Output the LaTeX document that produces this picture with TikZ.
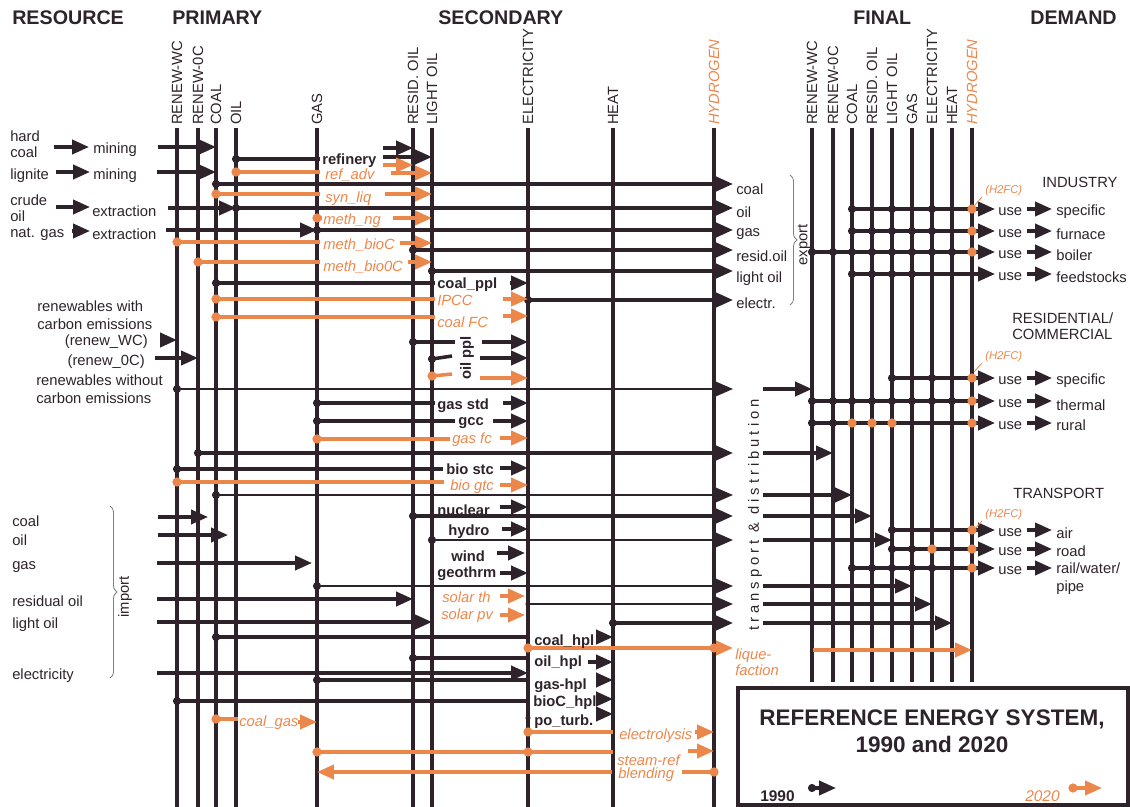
\documentclass[tikz,border=0pt]{standalone}
\usepackage{fontspec}
\setmainfont{Liberation Sans}
\usetikzlibrary{arrows.meta,positioning,decorations.pathreplacing}
\definecolor{dk}{RGB}{46,35,42}
\definecolor{orng}{RGB}{236,135,75}
\newcommand{\tap}[2]{\fill[dk] (#1 |- 0,#2) circle (2.9pt);}
\newcommand{\ntap}[2]{\fill[orng] (#1 |- 0,#2) circle (3.3pt);}

\begin{document}
\begin{tikzpicture}[x=0.025cm, y=-0.025cm,
    txt/.style={inner sep=0pt, anchor=west, text=dk, align=left, font=\fontsize{10.5}{11.5}\selectfont},
    proc/.style={txt, font=\fontsize{10.5}{11.5}\selectfont\bfseries},
    nproc/.style={txt, text=orng, font=\fontsize{10.5}{11.5}\selectfont\itshape},
    head/.style={inner sep=0pt, anchor=west, text=dk, font=\fontsize{14}{16}\selectfont\bfseries},
    collbl/.style={inner sep=0pt, rotate=90, anchor=west, text=dk, font=\fontsize{10.5}{11.5}\selectfont},
    bus/.style={draw=dk, line width=2.9pt},
    flow/.style={draw=dk, line width=2.5pt},
    thinflow/.style={draw=dk, line width=1.5pt},
    nflow/.style={draw=orng, line width=2.5pt},
    line/.style={-{Triangle[length=12pt, width=10pt]}},
    brc/.style={draw=gray, line width=0.6pt, decorate, decoration={brace, amplitude=5pt}},
    h2/.style={inner sep=0pt, anchor=west, text=orng, font=\fontsize{8}{9}\selectfont\itshape}
  ]
  \useasboundingbox (0,0) rectangle (1130,807);

  % headings
  \node [head] (hres) at (12,18) {RESOURCE};
  \node [head] (hpri) at (172,18) {PRIMARY};
  \node [head] (hsec) at (438,18) {SECONDARY};
  \node [head] (hfin) at (853,18) {FINAL};
  \node [head] (hdem) at (1030,18) {DEMAND};

  % primary and secondary buses
  \foreach \n/\x/\lab in {pRWC/177/RENEW-WC, pROC/198/RENEW-0C, pCOAL/216/COAL, pOIL/236/OIL, pGAS/317/GAS,
      sRES/413/RESID. OIL, sLIG/432/LIGHT OIL, sELE/528/ELECTRICITY, sHEA/613/HEAT} {
    \coordinate (\n) at (\x,128);
    \draw [bus] (\n) -- (\x,807);
    \node [collbl] (l\n) at (\x,125) {\lab};
  }
  \coordinate (sHYD) at (714,128);
  \draw [bus] (sHYD) -- (714,807);
  \node [collbl, text=orng, font=\fontsize{10.5}{11.5}\selectfont\itshape] (lsHYD) at (714,125) {HYDROGEN};

  % final buses
  \foreach \n/\x/\lab in {fRWC/812/RENEW-WC, fROC/833/RENEW-0C, fCOAL/852/COAL, fRES/872/RESID. OIL,
      fLIG/892/LIGHT OIL, fGAS/912/GAS, fELE/932/ELECTRICITY, fHEA/952/HEAT} {
    \coordinate (\n) at (\x,128);
    \draw [bus] (\n) -- (\x,682);
    \node [collbl] (l\n) at (\x,125) {\lab};
  }
  \coordinate (fHYD) at (972,128);
  \draw [bus] (fHYD) -- (972,682);
  \node [collbl, text=orng, font=\fontsize{10.5}{11.5}\selectfont\itshape] (lfHYD) at (972,125) {HYDROGEN};

  \coordinate (ex) at (733,0);
  \coordinate (td) at (763,0);
  \coordinate (ue) at (995,0);

  % resources
  \node [txt] (hcoal) at (10,144) {hard\\coal};
  \node [txt] (mine1) at (93,150) {mining};
  \node [txt] (lign) at (10,176) {lignite};
  \node [txt] (mine2) at (93,176) {mining};
  \node [txt] (crude) at (10,208) {crude\\oil};
  \node [txt] (extr1) at (92,211) {extraction};
  \node [txt] (ngas) at (10,234) {nat. gas};
  \node [txt] (extr2) at (92,234) {extraction};
  \path [flow, line] (54,147) -- (89,147);
  \path [flow, line] (56,172) -- (90,172);
  \path [flow, line] (56,207) -- (90,207);
  \path [flow, line] (72,231) -- (90,231);
  \path [flow, line] (158,147) -- (pCOAL |- 0,147);
  \path [flow, line] (157,172) -- (pCOAL |- 0,172);
  \path [flow, line] (168,208) -- (pOIL |- 0,208);
  \path [flow, line] (166,230) -- (pGAS |- 0,230);

  \node [txt, font=\fontsize{10.5}{13}\selectfont] (rwc) at (37,315) {renewables with\\carbon emissions};
  \node [txt, anchor=east] (rwcl) at (148,342) {(renew\_WC)};
  \node [txt, anchor=east] (rocl) at (145,362) {(renew\_0C)};
  \node [txt, font=\fontsize{10.5}{13}\selectfont] (roc) at (36,389) {renewables without\\carbon emissions};
  \path [flow, line] (160,340) -- (pRWC |- 0,340);
  \path [flow, line] (155,358) -- (pROC |- 0,358);

  % imports
  \node [txt] (icoal) at (12,521) {coal};
  \node [txt] (ioil) at (12,540) {oil};
  \node [txt] (igas) at (12,567) {gas};
  \node [txt] (ires) at (12,601) {residual oil};
  \node [txt] (ilig) at (12,625) {light oil};
  \node [txt] (iele) at (12,676) {electricity};
  \draw [brc] (110,506) -- (110,678);
  \node [txt, anchor=center, rotate=90] (import) at (125,597) {import};
  \path [flow, line] (158,517) -- (208,517);
  \path [flow, line] (158,535) -- (228,535);
  \path [flow, line] (157,563) -- (312,563);
  \path [flow, line] (157,599) -- (sRES |- 0,599);
  \path [flow, line] (157,622) -- (sLIG |- 0,622);
  \path [flow, line] (157,673) -- (sELE |- 0,673);

  % refineries and conversion to oil products
  \tap{pOIL}{159} \path [flow] (pOIL |- 0,159) -- (320,159);
  \node [proc] (refin) at (322,161) {refinery};
  \path [flow, line] (383,148) -- (sRES |- 0,148);
  \path [flow, line] (383,157) -- (sLIG |- 0,157);
  \ntap{pOIL}{172} \path [nflow] (pOIL |- 0,172) -- (320,172);
  \node [nproc] (refadv) at (325,175) {ref\_adv};
  \path [nflow, line] (383,165) -- (sRES |- 0,165);
  \path [nflow, line] (391,173) -- (sLIG |- 0,173);
  \ntap{pCOAL}{194} \path [nflow] (pCOAL |- 0,194) -- (320,194);
  \node [nproc] (synliq) at (325,199) {syn\_liq};
  \path [nflow, line] (385,194) -- (sLIG |- 0,194);
  \ntap{pGAS}{218} \path [nflow] (pGAS |- 0,218) -- (322,218);
  \node [nproc] (methng) at (323,221) {meth\_ng};
  \path [nflow, line] (393,218) -- (sLIG |- 0,218);
  \ntap{pRWC}{242} \path [nflow] (pRWC |- 0,242) -- (320,242);
  \node [nproc] (mbioc) at (323,245) {meth\_bioC};
  \path [nflow, line] (400,243) -- (sLIG |- 0,243);
  \ntap{pROC}{262} \path [nflow] (pROC |- 0,262) -- (320,262);
  \node [nproc] (mbioo) at (323,267) {meth\_bio0C};
  \path [nflow, line] (408,262) -- (sLIG |- 0,262);

  % exports
  \tap{pCOAL}{184} \path [flow, line] (pCOAL |- 0,184) -- (ex |- 0,184);
  \tap{pOIL}{208}  \path [flow, line] (pOIL |- 0,208) -- (ex |- 0,208);
  \tap{pGAS}{230}  \path [flow, line] (pGAS |- 0,230) -- (ex |- 0,230);
  \tap{sRES}{250}  \path [flow, line] (sRES |- 0,250) -- (ex |- 0,250);
  \tap{sLIG}{271}  \path [flow, line] (sLIG |- 0,271) -- (ex |- 0,271);
  \tap{sELE}{300}  \path [flow, line] (sELE |- 0,300) -- (ex |- 0,300);
  \node [txt] (xcoal) at (736,189) {coal};
  \node [txt] (xoil) at (736,212) {oil};
  \node [txt] (xgas) at (736,234) {gas};
  \node [txt] (xres) at (736,256) {resid.oil};
  \node [txt] (xlig) at (736,279) {light oil};
  \node [txt] (xele) at (736,303) {electr.};
  \draw [brc] (790,175) -- (790,305);
  \node [txt, anchor=center, rotate=90] (export) at (804,245) {export};

  % power plants
  \tap{pCOAL}{283} \path [flow] (pCOAL |- 0,283) -- (435,283);
  \node [proc] (cppl) at (437,285) {coal\_ppl};
  \path [flow, line] (510,283) -- (sELE |- 0,283);
  \ntap{pCOAL}{299} \path [nflow] (pCOAL |- 0,299) -- (435,299);
  \node [nproc] (ipcc) at (437,300) {IPCC};
  \path [nflow, line] (503,299) -- (sELE |- 0,299);
  \ntap{pCOAL}{317} \path [nflow] (pCOAL |- 0,317) -- (435,317);
  \node [nproc] (cfc) at (437,322) {coal FC};
  \path [nflow, line] (503,316) -- (sELE |- 0,316);
  \tap{sRES}{342} \path [flow] (sRES |- 0,342) -- (455,342);
  \tap{sLIG}{359} \path [flow] (sLIG |- 0,359) -- (452,356);
  \ntap{sLIG}{376} \path [nflow] (sLIG |- 0,376) -- (452,374);
  \node [proc, anchor=center, rotate=90] (oppl) at (467,358) {oil ppl};
  \path [flow, line] (482,342) -- (sELE |- 0,342);
  \path [flow, line] (480,358) -- (sELE |- 0,358);
  \path [nflow, line] (480,378) -- (sELE |- 0,378);
  \tap{pGAS}{403} \path [flow] (pGAS |- 0,403) -- (435,403);
  \node [proc] (gstd) at (437,406) {gas std};
  \path [flow, line] (503,403) -- (sELE |- 0,403);
  \tap{pGAS}{421} \path [flow] (pGAS |- 0,421) -- (455,421);
  \node [proc] (gcc) at (458,423) {gcc};
  \path [flow, line] (493,421) -- (sELE |- 0,421);
  \ntap{pGAS}{439} \path [nflow] (pGAS |- 0,439) -- (450,439);
  \node [nproc] (gfc) at (452,440) {gas fc};
  \path [nflow, line] (500,438) -- (sELE |- 0,438);
  \tap{pRWC}{469} \path [flow] (pRWC |- 0,469) -- (443,469);
  \node [proc] (bstc) at (446,469) {bio stc};
  \path [flow, line] (500,468) -- (sELE |- 0,468);
  \ntap{pRWC}{482} \path [nflow] (pRWC |- 0,482) -- (444,482);
  \node [nproc] (bgtc) at (450,487) {bio gtc};
  \path [nflow, line] (500,485) -- (sELE |- 0,485);
  \node [proc] (nucl) at (437,510) {nuclear};
  \path [flow, line] (500,507) -- (sELE |- 0,507);
  \node [proc] (hydro) at (448,532) {hydro};
  \path [flow, line] (502,529) -- (sELE |- 0,529);
  \node [proc] (wind) at (451,556) {wind};
  \path [flow, line] (497,553) -- (525,553);
  \node [proc] (geoth) at (437,574) {geothrm};
  \path [flow, line] (500,573) -- (sELE |- 0,573);
  \node [nproc] (solth) at (442,597) {solar th};
  \path [nflow, line] (500,596) -- (525,596);
  \node [nproc] (solpv) at (441,616) {solar pv};
  \path [nflow, line] (500,615) -- (525,615);

  % transport and distribution
  \tap{pRWC}{389} \path [thinflow, line] (pRWC |- 0,389) -- (ex |- 0,389);
  \tap{pROC}{453} \path [flow, line] (pROC |- 0,453) -- (ex |- 0,453);
  \tap{pCOAL}{495} \path [thinflow, line] (pCOAL |- 0,495) -- (ex |- 0,495);
  \tap{sRES}{516} \path [flow, line] (sRES |- 0,516) -- (ex |- 0,516);
  \tap{sLIG}{540} \path [thinflow, line] (sLIG |- 0,540) -- (ex |- 0,540);
  \tap{pGAS}{586} \path [thinflow, line] (pGAS |- 0,586) -- (ex |- 0,586);
  \fill [dk] (sELE |- 0,604) circle (1.8pt); \path [thinflow, line] (sELE |- 0,604) -- (ex |- 0,604);
  \tap{sHEA}{623} \path [flow, line] (sHEA |- 0,623) -- (ex |- 0,623);
  \node [txt, anchor=center, rotate=90, font=\fontsize{10.5}{11.5}\selectfont\addfontfeature{LetterSpace=27}] (tdist) at (755,515) {transport \& distribution};
  \path [flow, line] (td |- 0,389) -- (fRWC |- 0,389);
  \path [flow, line] (td |- 0,453) -- (fROC |- 0,453);
  \path [flow, line] (td |- 0,495) -- (fCOAL |- 0,495);
  \path [flow, line] (td |- 0,516) -- (fRES |- 0,516);
  \path [flow, line] (td |- 0,540) -- (fLIG |- 0,540);
  \path [flow, line] (td |- 0,586) -- (fGAS |- 0,586);
  \path [flow, line] (td |- 0,604) -- (fELE |- 0,604);
  \path [flow, line] (td |- 0,623) -- (fHEA |- 0,623);
  \ntap{sELE}{648} \path [nflow, line] (sELE |- 0,648) -- (ex |- 0,648); \ntap{sHYD}{648}
  \node [nproc] (liquef) at (735,662) {lique-\\faction};
  \path [nflow, line] (813,650) -- (fHYD |- 0,650);

  % heat plants and hydrogen
  \tap{pCOAL}{637} \path [flow] (pCOAL |- 0,637) -- (sELE |- 0,637);
  \node [proc] (chpl) at (534,642) {coal\_hpl};
  \path [flow, line] (598,637) -- (sHEA |- 0,637);
  \tap{sRES}{658} \path [flow] (sRES |- 0,658) -- (sELE |- 0,658);
  \node [proc] (ohpl) at (534,663) {oil\_hpl};
  \path [flow, line] (588,662) -- (sHEA |- 0,662);
  \tap{pGAS}{680} \path [flow] (pGAS |- 0,680) -- (sELE |- 0,680);
  \node [proc] (ghpl) at (534,686) {gas-hpl};
  \path [flow, line] (597,680) -- (sHEA |- 0,680);
  \tap{pRWC}{701} \path [flow] (pRWC |- 0,701) -- (sELE |- 0,701);
  \node [proc] (bhpl) at (533,703) {bioC\_hpl};
  \path [flow, line] (598,699) -- (sHEA |- 0,699);
  \fill [dk] (sELE |- 0,718) circle (1.8pt);
  \node [proc] (poturb) at (534,722) {po\_turb.};
  \path [flow, line] (598,714) -- (sHEA |- 0,714);
  \ntap{pCOAL}{719} \path [nflow] (pCOAL |- 0,719) -- (238,719);
  \node [nproc] (cgas) at (239,723) {coal\_gas};
  \path [nflow, line] (298,722) -- (pGAS |- 0,722);
  \ntap{sELE}{732} \path [nflow] (sELE |- 0,732) -- (sHEA |- 0,732);
  \node [nproc] (elys) at (619,736) {electrolysis};
  \path [nflow, line] (695,732) -- (sHYD |- 0,732);
  \ntap{pGAS}{752} \path [nflow] (pGAS |- 0,752) -- (sHEA |- 0,752); \ntap{sELE}{752}
  \node [nproc] (sref) at (617,760) {steam-ref};
  \path [nflow, line] (688,751) -- (sHYD |- 0,751);
  \ntap{sHYD}{772} \path [nflow] (sHYD |- 0,772) -- (682,772);
  \node [nproc] (blend) at (618,775) {blending};
  \path [nflow, line] (612,772) -- (pGAS |- 0,772);

  % demand sectors
  \node [txt] (ind) at (1042,182) {INDUSTRY};
  \node [txt] (res) at (1012,326) {RESIDENTIAL/\\COMMERCIAL};
  \node [txt] (tra) at (1013,493) {TRANSPORT};
  \foreach \y/\d [count=\i] in {209/specific, 231/furnace, 252/boiler, 274/feedstocks,
      378/specific, 401/thermal, 423/rural, 530/air, 549/road, 568/rail} {
    \node [txt] (use\i) at (998,\y+3) {use};
    \path [flow, line] (1027,\y) -- (1052,\y);
  }
  \node [txt] (dspec) at (1056,212) {specific};
  \node [txt] (dfurn) at (1056,234) {furnace};
  \node [txt] (dboil) at (1056,255) {boiler};
  \node [txt] (dfeed) at (1056,277) {feedstocks};
  \node [txt] (rspec) at (1056,381) {specific};
  \node [txt] (rther) at (1056,405) {thermal};
  \node [txt] (rrur) at (1056,425) {rural};
  \node [txt] (tair) at (1056,533) {air};
  \node [txt] (troad) at (1056,551) {road};
  \node [txt, font=\fontsize{10.5}{13}\selectfont] (trail) at (1056,579) {rail/water/\\pipe};

  \path [flow, line] (fCOAL |- 0,209) -- (ue |- 0,209);
  \foreach \c in {fCOAL,fLIG,fELE} {\tap{\c}{209}}
  \path [flow, line] (fCOAL |- 0,231) -- (ue |- 0,231);
  \foreach \c in {fCOAL,fRES,fLIG,fGAS,fELE} {\tap{\c}{231}}
  \path [flow, line] (fRWC |- 0,252) -- (ue |- 0,252);
  \foreach \c in {fRWC,fROC,fCOAL,fRES,fLIG,fGAS,fELE,fHEA} {\tap{\c}{252}}
  \path [flow, line] (fCOAL |- 0,274) -- (ue |- 0,274);
  \foreach \c in {fCOAL,fRES,fLIG,fGAS} {\tap{\c}{274}}
  \path [flow, line] (fLIG |- 0,378) -- (ue |- 0,378);
  \foreach \c in {fLIG,fELE} {\tap{\c}{378}}
  \path [flow, line] (fRWC |- 0,401) -- (ue |- 0,401);
  \foreach \c in {fRWC,fROC,fCOAL,fRES,fLIG,fGAS,fELE,fHEA} {\tap{\c}{401}}
  \path [flow, line] (fRWC |- 0,423) -- (ue |- 0,423);
  \foreach \c in {fRWC,fROC} {\tap{\c}{423}}
  \foreach \c in {fCOAL,fRES,fLIG} {\ntap{\c}{423}}
  \path [flow, line] (fLIG |- 0,530) -- (ue |- 0,530);
  \tap{fLIG}{530}
  \path [flow, line] (fLIG |- 0,549) -- (ue |- 0,549);
  \foreach \c in {fLIG,fGAS} {\tap{\c}{549}}
  \ntap{fELE}{549}
  \path [flow, line] (fCOAL |- 0,568) -- (ue |- 0,568);
  \foreach \c in {fCOAL,fRES,fLIG,fGAS,fELE} {\tap{\c}{568}}
  \foreach \y in {209,231,252,378,401,423,530,549,568} {\ntap{fHYD}{\y}}

  % hydrogen fuel cells
  \foreach \y in {191,357,515} {
    \node [h2] at (985,\y) {(H2FC)};
    \draw [orng, line width=0.6pt] (982,\y+6) -- (974,\y+15);
  }

  % legend
  \draw [dk, line width=2.4pt] (738,688) rectangle (1128,805);
  \node [inner sep=0pt, text=dk, align=center, font=\fontsize{16}{19}\selectfont\bfseries] (title) at (932,731) {REFERENCE ENERGY SYSTEM,\\1990 and 2020};
  \node [proc, font=\fontsize{11}{12}\selectfont\bfseries] (y1990) at (760,796) {1990};
  \fill [dk] (812,788) circle (2.9pt); \path [flow, line] (812,788) -- (836,788);
  \node [nproc, font=\fontsize{11}{12}\selectfont\itshape] (y2020) at (1025,796) {2020};
  \fill [orng] (1073,788) circle (3.3pt); \path [nflow, line] (1073,788) -- (1102,788);
\end{tikzpicture}
\end{document}
